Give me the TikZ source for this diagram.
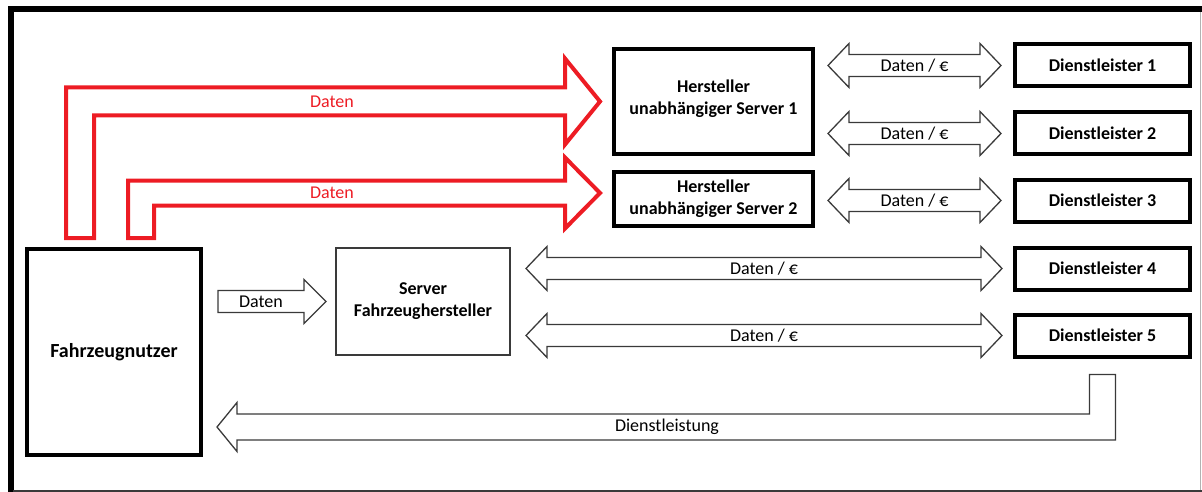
\documentclass[tikz,border=0pt]{standalone}
\usepackage{fontspec}
\setmainfont{Carlito}
\usetikzlibrary{calc}
\definecolor{datred}{HTML}{ED1C24}
\definecolor{edgegray}{HTML}{3A3A3A}

% double-headed block arrow between two tip coordinates, with a label in its shaft
\newcommand\twowayarrow[3]{%
  \draw[blockarrow] (#1) -- ($(#1)+(21,-22)$) -- ($(#1)+(21,-11)$)
    -- ($(#2)+(-21,-11)$) -- ($(#2)+(-21,-22)$) -- (#2)
    -- ($(#2)+(-21,22)$) -- ($(#2)+(-21,11)$)
    -- ($(#1)+(21,11)$) -- ($(#1)+(21,22)$) -- cycle;
  \node[arrowlabel] at ($(#1)!0.5!(#2)$) {#3};}

\begin{document}
\begin{tikzpicture}[x=1pt,y=-1pt,
  box/.style={draw=black,line width=4pt,inner sep=0pt,outer sep=0pt,
    align=center,font=\bfseries\fontsize{18}{22}\selectfont},
  thinbox/.style={box,draw=edgegray,line width=1.5pt},
  blockarrow/.style={draw=edgegray,line width=1.3pt,fill=white,line join=miter},
  redarrow/.style={draw=datred,line width=4pt,line join=miter},
  arrowlabel/.style={inner sep=0pt,font=\fontsize{18}{22}\selectfont,text=black},
  redlabel/.style={arrowlabel,text=datred}]
\useasboundingbox (0,0) rectangle (1202,492);

% outer frame
\draw[line width=6pt,line join=miter] (10.5,492) -- (10.5,9) -- (1202,9);
\draw[edgegray,line width=2pt] (13,490.5) -- (1202,490.5);
\draw[black!30,line width=1pt] (1200.5,12) -- (1200.5,489.5);

% participants
\node[box,minimum width=174,minimum height=206,font=\bfseries\fontsize{20}{24}\selectfont]
  (fn) at (114,352) {Fahrzeugnutzer};
\node[thinbox,minimum width=174,minimum height=107] (fh) at (423,301.5)
  {Server\\Fahrzeughersteller};
\node[box,minimum width=199,minimum height=105,text depth=8pt] (srv1) at (713.5,101.5)
  {Hersteller\\unabhängiger Server 1};
\node[box,minimum width=199,minimum height=54] (srv2) at (713.5,199)
  {Hersteller\\unabhängiger Server 2};
\foreach \i/\y in {1/65.5,2/133.5,3/200.5,4/268.5,5/335.5}
  \node[box,minimum width=175,minimum height=42] (d\i) at (1102.5,\y) {Dienstleister \i};

% data flows from the user to the independent servers
\coordinate (tipA) at ($(srv1.west)+(-14,0)$);
\coordinate (footAl) at ($(fn.north west)+(39,-11)$);
\coordinate (footAr) at ($(fn.north west)+(67,-11)$);
\draw[redarrow] (footAl) |- ($(tipA)+(-35,-14)$) -- ($(tipA)+(-35,-43)$) -- (tipA)
  -- ($(tipA)+(-35,43)$) -- ($(tipA)+(-35,14)$) -| (footAr) -- cycle;
\node[redlabel] at ($(tipA)+(-268,0)$) {Daten};

\coordinate (tipB) at ($(srv2.west)+(-14,-6)$);
\coordinate (footBl) at ($(fn.north west)+(101,-11)$);
\coordinate (footBr) at ($(fn.north west)+(127,-11)$);
\draw[redarrow] (footBl) |- ($(tipB)+(-35,-12.5)$) -- ($(tipB)+(-35,-35.5)$) -- (tipB)
  -- ($(tipB)+(-35,35.5)$) -- ($(tipB)+(-35,12.5)$) -| (footBr) -- cycle;
\node[redlabel] at ($(tipB)+(-268,0)$) {Daten};

% data from the user to the vehicle maker's server
\coordinate (dl) at ($(fn.east |- fh.west)+(17,0)$);
\coordinate (dr) at ($(fh.west)+(-10,0)$);
\draw[blockarrow] ($(dl)+(0,-11)$) -- ($(dr)+(-22,-11)$) -- ($(dr)+(-22,-22)$) -- (dr)
  -- ($(dr)+(-22,22)$) -- ($(dr)+(-22,11)$) -- ($(dl)+(0,11)$) -- cycle;
\node[arrowlabel] at ($(dl)!0.5!($(dr)+(-22,0)$)$) {Daten};

% exchanges with the service providers
\foreach \s/\d in {srv1/d1,srv1/d2,srv2/d3}{
  \coordinate (l\d) at ($(\s.east |- \d.west)+(15,0)$);
  \coordinate (r\d) at ($(\d.west)+(-14,0)$);
}
\twowayarrow{ld1}{rd1}{Daten / €}
\twowayarrow{ld2}{rd2}{Daten / €}
\twowayarrow{ld3}{rd3}{Daten / €}
\foreach \d in {d4,d5}{
  \coordinate (l\d) at ($(fh.east |- \d.west)+(16,0)$);
  \coordinate (r\d) at ($(\d.west)+(-13,0)$);
}
\twowayarrow{ld4}{rd4}{Daten / €}
\twowayarrow{ld5}{rd5}{Daten / €}

% service delivered back to the user
\coordinate (sl) at ($(d5.south)+(-13,18)$);
\coordinate (sr) at ($(d5.south)+(13,18)$);
\coordinate (stip) at ($(fn.south east)+(16,-28)$);
\draw[blockarrow] (sr) -- (sl) |- ($(stip)+(20,-13)$) -- ($(stip)+(20,-24.5)$) -- (stip)
  -- ($(stip)+(20,24.5)$) -- ($(stip)+(20,13)$) -| (sr) -- cycle;
\node[arrowlabel] at ($(stip)+(450,0)$) {Dienstleistung};
\end{tikzpicture}
\end{document}
